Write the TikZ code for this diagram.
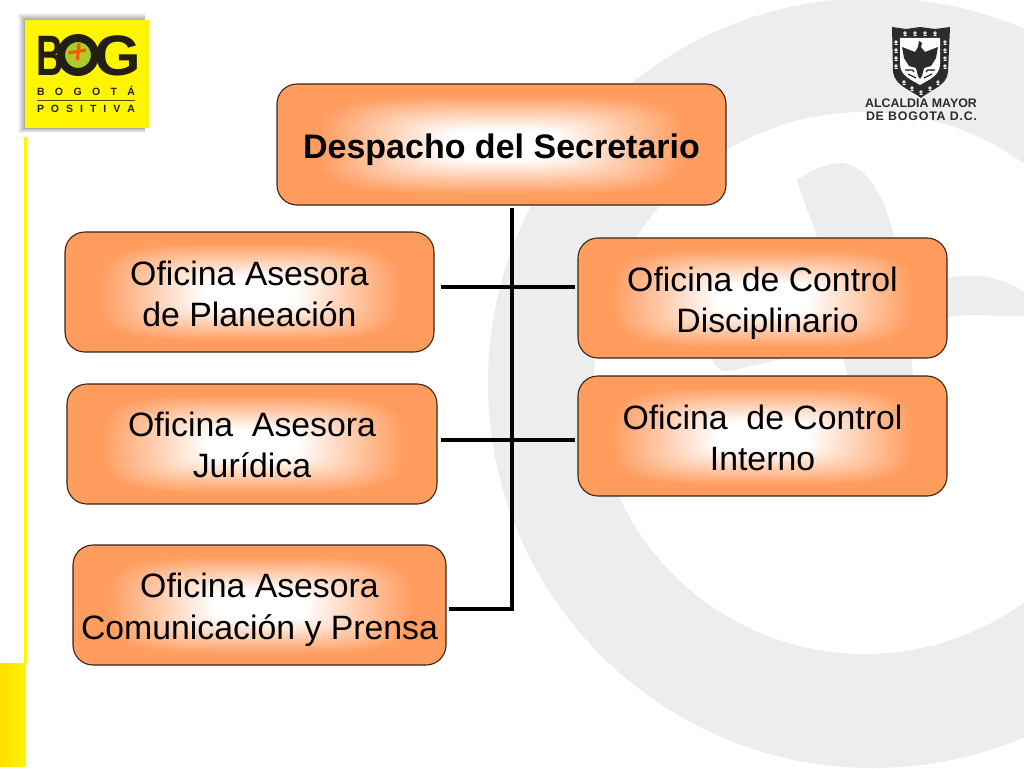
\documentclass[tikz,border=0pt]{standalone}
\usepackage{fontspec}
\setmainfont{Liberation Sans}
\pgfdeclarefunctionalshading{boxglow}{\pgfpoint{0bp}{0bp}}{\pgfpoint{100bp}{100bp}}{}{
  50 sub 25 div dup mul dup mul
  exch 50 sub 25 div dup mul dup mul
  add sqrt sqrt
  0.24 sub 0.58 div
  dup 0 lt {pop 0} if
  dup 1 gt {pop 1} if
  dup 0.39 mul 1 exch sub
  exch 0.63 mul 1 exch sub
  1 3 1 roll
}
\newcommand\liftlines[2]{\smash{\raisebox{#1}{\begin{tabular}{@{}c@{}}#2\end{tabular}}}}
\definecolor{wm}{HTML}{EDEDED}
\definecolor{edgeline}{HTML}{3A2414}
\definecolor{logoyel}{HTML}{FFF500}
\definecolor{logoink}{HTML}{231F14}
\definecolor{crest}{HTML}{2B2B2B}
\tikzset{
  orgbox/.style={shape=rectangle,rounded corners=20pt,draw=edgeline,line width=1.1pt,
    shading=boxglow,minimum width=#1,minimum height=120pt,inner sep=0pt,align=center,
    font=\fontsize{33.8}{41.5}\selectfont,text=black},
  trunkline/.style={line width=4pt,black,line cap=butt},
  branchline/.style={line width=3.2pt,black},
  logotext/.style={font=\fontsize{10.5}{11}\bfseries\selectfont,text=logoink,inner sep=0pt},
  logoglyph/.style={font=\fontsize{57}{57}\bfseries\selectfont,text=logoink,inner sep=0pt},
  cresttext/.style={font=\fontsize{12.4}{13}\bfseries\selectfont,text=crest,inner sep=0pt},
}
\begin{document}
\begin{tikzpicture}[x=1pt,y=-1pt]
\clip (0,0) rectangle (1024,768);
\fill[white] (0,0) rectangle (1024,768);
% watermark
\fill[wm,even odd rule] (873,383) circle[radius=385pt] (865,383) circle[radius=271pt];
\fill[wm] (797,180) .. controls (812,170) and (828,163) .. (842,163)
  .. controls (868,165) and (885,200) .. (893,233)
  .. controls (902,280) and (910,340) .. (925,480) -- (870,480) -- (817,237)
  .. controls (810,215) and (802,198) .. (797,180) -- cycle;
\fill[wm] (725,325) -- (948,278) .. controls (975,272) and (1005,278) .. (1024,292)
  -- (1024,316) .. controls (1005,317) and (975,313) .. (948,317)
  -- (787,358) -- (728,371) .. controls (712,373) and (700,345) .. (725,325) -- cycle;
% left strip
\fill[left color=yellow!75!orange,right color=logoyel] (0,663) rectangle (26,766);
\fill[logoyel] (24,137) rectangle (26.5,663);
% logo
\foreach \d/\o in {7/.03,6/.04,5/.05,4/.05,3/.06,2/.06,1/.07}{
  \fill[black,opacity=\o] (25-\d,20-\d) rectangle (145,128+\d*.7);
}
\fill[logoyel] (25,20) rectangle (149,128);
\node[logoglyph,xscale=.66] (bB) at (50,55.5) {B};
\fill[yellow!70!green!90!black] (78,55) circle[radius=14pt];
\draw[logoink,line width=8pt] (78,55) circle[radius=17pt];
\node[logoglyph,xscale=1.05] (bG) at (117.5,55.5) {G};
\draw[orange!70!red,line width=3.2pt] (68.5,53) -- (86,50);
\draw[orange!70!red,line width=3.2pt] (79,43.5) -- (77.5,60);
\node[logotext] (bogota) at (86,91) {\hbox to 98pt{B\hfil O\hfil G\hfil O\hfil T\hfil Á}};
\fill[logoink!80!yellow] (37,99.7) rectangle (135,100.5);
\node[logotext] (positiva) at (86,109) {\hbox to 98pt{P\hfil O\hfil S\hfil I\hfil T\hfil I\hfil V\hfil A}};
% crest
\fill[crest] (892,27) -- (906,29) -- (920,27) -- (935,29) -- (950,27) -- (948,72)
  .. controls (947,86) and (930,90) .. (921,98)
  .. controls (911,90) and (895,86) .. (893,72) -- cycle;
\fill[white] (900,38) -- (940,38) -- (940,64) .. controls (940,76) and (928,80) .. (920,85)
  .. controls (912,80) and (900,76) .. (900,64) -- cycle;
\fill[crest] (919,41) -- (922,43) -- (921,47) -- (925,52) -- (938,47) -- (936,58) -- (931,66)
  -- (924,68) -- (922,76) -- (920,79) -- (918,76) -- (916,68) -- (909,66) -- (904,58) -- (902,47)
  -- (915,52) -- (918,47) -- cycle;
\draw[crest,line width=1.3pt] (905,70) .. controls (910,71) and (912,68) .. (914,72)
  (935,70) .. controls (930,71) and (928,68) .. (926,72)
  (908,74) -- (916,78) (932,74) -- (924,78);
\foreach \a/\b in {896/42,896/50,896/58,896/66,945/42,945/50,945/58,945/66,905/33,915/33,925/33,935/33,904/82,912/88,921/92,930/88,938/82}{
  \draw[white,line width=.8pt] (\a,\b) circle[radius=1.3pt] (\a-1.5,\b+2.5) -- (\a+1.5,\b+2.5);
}
\node[cresttext] (alc1) at (921,103.5) {ALCALDIA MAYOR};
\node[cresttext] (alc2) at (921.5,116) {\addfontfeature{LetterSpace=6.3}DE BOGOTA D.C.};
% boxes
\node[orgbox=449pt,minimum height=121pt,font=\fontsize{34}{40}\bfseries\selectfont] (top) at (501.5,144.5) {\liftlines{-12.5pt}{Despacho del Secretario}};
\node[orgbox=369pt] (plan) at (249.5,292) {\liftlines{-12pt}{Oficina Asesora\\de Planeación}};
\node[orgbox=370pt] (juri) at (252,444) {\liftlines{-11pt}{Oficina\ \ Asesora\\Jurídica}};
\node[orgbox=373pt] (comu) at (259.5,605) {\liftlines{-11.5pt}{Oficina Asesora\\Comunicación y Prensa}};
\node[orgbox=369pt] (disc) at (762.5,298) {\liftlines{-12pt}{Oficina de Control\\\hspace*{10pt}Disciplinario}};
\node[orgbox=369pt] (inte) at (762.5,436) {\liftlines{-12pt}{Oficina\ \ de Control\\Interno}};
% connectors
\coordinate (trunkend) at (512,609);
\draw[trunkline] ([xshift=10.5pt,yshift=-2pt]top.south) -- ([yshift=-2pt]trunkend);
\draw[branchline] ([xshift=6pt,yshift=5pt]plan.east) -- ([xshift=-2pt,yshift=11pt]disc.west);
\draw[branchline] ([xshift=3pt,yshift=4pt]juri.east) -- ([xshift=-2pt,yshift=-4pt]inte.west);
\draw[branchline] ([xshift=2pt,yshift=-4pt]comu.east) -- (trunkend);
\end{tikzpicture}
\end{document}
